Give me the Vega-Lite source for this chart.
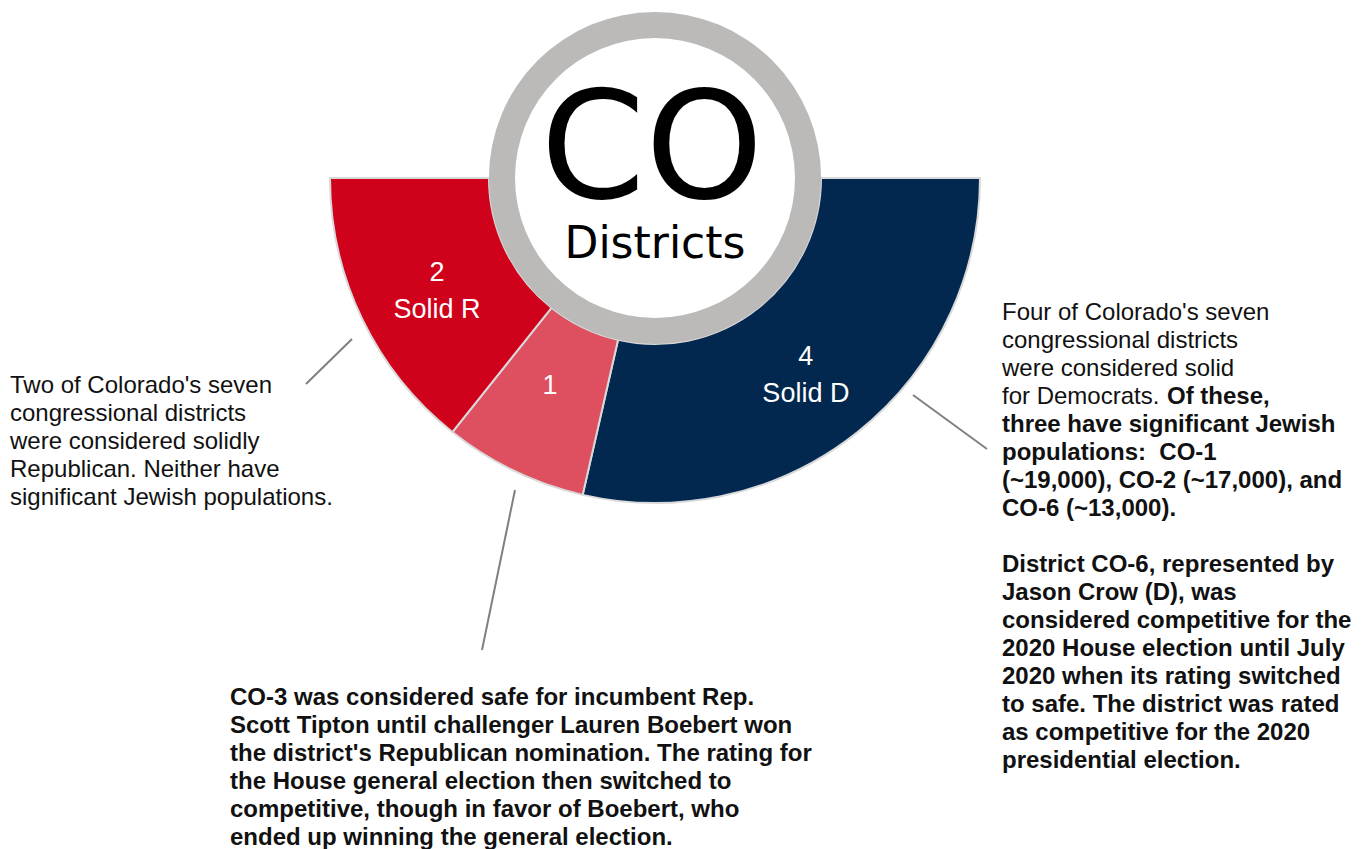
{
  "$schema": "https://vega.github.io/schema/vega-lite/v6.json",
  "width": 1368,
  "height": 849,
  "autosize": {"type": "none"},
  "padding": 0,
  "background": "white",
  "config": {"view": {"stroke": null}, "text": {"font": "Liberation Sans"}},
  "datasets": {
    "districts": [
      {"rating": "Solid D", "districts": 4, "ord": 1, "label": "4\nSolid D"},
      {"rating": "Competitive R", "districts": 1, "ord": 2, "label": "1"},
      {"rating": "Solid R", "districts": 2, "ord": 3, "label": "2\nSolid R"}
    ],
    "one": [{}]
  },
  "layer": [
    {
      "data": {"name": "districts"},
      "mark": {"type": "arc", "innerRadius": 166, "outerRadius": 325, "stroke": "#d9d9d9", "strokeWidth": 2},
      "encoding": {
        "x": {"datum": 655, "scale": {"domain": [0, 1368], "nice": false, "zero": false}, "axis": null},
        "y": {"datum": 178, "scale": {"domain": [0, 849], "nice": false, "zero": false, "reverse": true}, "axis": null},
        "theta": {"field": "districts", "type": "quantitative", "stack": true, "scale": {"domain": [0, 7], "range": [1.5708, 4.7124]}},
        "order": {"field": "ord", "type": "quantitative"},
        "color": {"field": "rating", "type": "nominal", "scale": {"domain": ["Solid D", "Competitive R", "Solid R"], "range": ["#02284F", "#DE4F60", "#D0021B"]}, "legend": null}
      }
    },
    {
      "data": {"name": "districts"},
      "mark": {"type": "text", "radius": 242, "dy": -10, "color": "white", "fontSize": 27, "lineBreak": "\n", "lineHeight": 37, "baseline": "middle", "align": "center"},
      "encoding": {
        "x": {"datum": 655, "scale": {"domain": [0, 1368], "nice": false, "zero": false}, "axis": null},
        "y": {"datum": 178, "scale": {"domain": [0, 849], "nice": false, "zero": false, "reverse": true}, "axis": null},
        "theta": {"field": "districts", "type": "quantitative", "stack": true, "scale": {"domain": [0, 7], "range": [1.5708, 4.7124]}},
        "order": {"field": "ord", "type": "quantitative"},
        "text": {"field": "label", "type": "nominal"}
      }
    },
    {
      "data": {"name": "one"},
      "mark": {"type": "arc", "theta": 0, "theta2": 6.2832, "innerRadius": 140, "outerRadius": 166, "color": "#BBBAB8"},
      "encoding": {
        "x": {"datum": 655, "scale": {"domain": [0, 1368], "nice": false, "zero": false}, "axis": null},
        "y": {"datum": 178, "scale": {"domain": [0, 849], "nice": false, "zero": false, "reverse": true}, "axis": null}
      }
    },
    {
      "data": {"name": "one"},
      "mark": {"type": "text", "text": "CO", "font": "DejaVu Sans", "fontSize": 150, "align": "center", "baseline": "alphabetic", "color": "black"},
      "encoding": {
        "x": {"datum": 652, "scale": {"domain": [0, 1368], "nice": false, "zero": false}, "axis": null},
        "y": {"datum": 198, "scale": {"domain": [0, 849], "nice": false, "zero": false, "reverse": true}, "axis": null}
      }
    },
    {
      "data": {"name": "one"},
      "mark": {"type": "text", "text": "Districts", "font": "DejaVu Sans", "fontSize": 44, "align": "center", "baseline": "alphabetic", "color": "black"},
      "encoding": {
        "x": {"datum": 655, "scale": {"domain": [0, 1368], "nice": false, "zero": false}, "axis": null},
        "y": {"datum": 258, "scale": {"domain": [0, 849], "nice": false, "zero": false, "reverse": true}, "axis": null}
      }
    },
    {
      "data": {"name": "one"},
      "mark": {"type": "text", "align": "left", "baseline": "alphabetic", "fontSize": 24, "lineHeight": 28, "color": "#111111",
        "text": ["Two of Colorado's seven", "congressional districts", "were considered solidly", "Republican. Neither have", "significant Jewish populations."]},
      "encoding": {
        "x": {"datum": 10, "scale": {"domain": [0, 1368], "nice": false, "zero": false}, "axis": null},
        "y": {"datum": 393, "scale": {"domain": [0, 849], "nice": false, "zero": false, "reverse": true}, "axis": null}
      }
    },
    {
      "data": {"name": "one"},
      "mark": {"type": "text", "align": "left", "baseline": "alphabetic", "fontSize": 24, "lineHeight": 28, "color": "#111111",
        "text": ["Four of Colorado's seven", "congressional districts", "were considered solid", "for Democrats."]},
      "encoding": {
        "x": {"datum": 1002, "scale": {"domain": [0, 1368], "nice": false, "zero": false}, "axis": null},
        "y": {"datum": 320, "scale": {"domain": [0, 849], "nice": false, "zero": false, "reverse": true}, "axis": null}
      }
    },
    {
      "data": {"name": "one"},
      "mark": {"type": "text", "align": "left", "baseline": "alphabetic", "fontSize": 24, "fontWeight": "bold", "color": "#111111", "text": "Of these,"},
      "encoding": {
        "x": {"datum": 1167, "scale": {"domain": [0, 1368], "nice": false, "zero": false}, "axis": null},
        "y": {"datum": 404, "scale": {"domain": [0, 849], "nice": false, "zero": false, "reverse": true}, "axis": null}
      }
    },
    {
      "data": {"name": "one"},
      "mark": {"type": "text", "align": "left", "baseline": "alphabetic", "fontSize": 24, "fontWeight": "bold", "lineHeight": 28, "color": "#111111",
        "text": ["three have significant Jewish", "populations:\u00a0\u00a0CO-1", "(~19,000), CO-2 (~17,000), and", "CO-6 (~13,000)."]},
      "encoding": {
        "x": {"datum": 1002, "scale": {"domain": [0, 1368], "nice": false, "zero": false}, "axis": null},
        "y": {"datum": 432, "scale": {"domain": [0, 849], "nice": false, "zero": false, "reverse": true}, "axis": null}
      }
    },
    {
      "data": {"name": "one"},
      "mark": {"type": "text", "align": "left", "baseline": "alphabetic", "fontSize": 24, "fontWeight": "bold", "lineHeight": 28, "color": "#111111",
        "text": ["District CO-6, represented by", "Jason Crow (D), was", "considered competitive for the", "2020 House election until July", "2020 when its rating switched", "to safe. The district was rated", "as competitive for the 2020", "presidential election."]},
      "encoding": {
        "x": {"datum": 1002, "scale": {"domain": [0, 1368], "nice": false, "zero": false}, "axis": null},
        "y": {"datum": 572, "scale": {"domain": [0, 849], "nice": false, "zero": false, "reverse": true}, "axis": null}
      }
    },
    {
      "data": {"name": "one"},
      "mark": {"type": "text", "align": "left", "baseline": "alphabetic", "fontSize": 24, "fontWeight": "bold", "lineHeight": 28, "color": "#111111",
        "text": ["CO-3 was considered safe for incumbent Rep.", "Scott Tipton until challenger Lauren Boebert won", "the district's Republican nomination. The rating for", "the House general election then switched to", "competitive, though in favor of Boebert, who", "ended up winning the general election."]},
      "encoding": {
        "x": {"datum": 230, "scale": {"domain": [0, 1368], "nice": false, "zero": false}, "axis": null},
        "y": {"datum": 705, "scale": {"domain": [0, 849], "nice": false, "zero": false, "reverse": true}, "axis": null}
      }
    },
    {
      "data": {"name": "one"},
      "mark": {"type": "rule", "color": "#808080", "strokeWidth": 2},
      "encoding": {
        "x": {"datum": 352, "scale": {"domain": [0, 1368], "nice": false, "zero": false}, "axis": null},
        "y": {"datum": 339, "scale": {"domain": [0, 849], "nice": false, "zero": false, "reverse": true}, "axis": null},
        "x2": {"datum": 306},
        "y2": {"datum": 384}
      }
    },
    {
      "data": {"name": "one"},
      "mark": {"type": "rule", "color": "#808080", "strokeWidth": 2},
      "encoding": {
        "x": {"datum": 515, "scale": {"domain": [0, 1368], "nice": false, "zero": false}, "axis": null},
        "y": {"datum": 490, "scale": {"domain": [0, 849], "nice": false, "zero": false, "reverse": true}, "axis": null},
        "x2": {"datum": 482},
        "y2": {"datum": 650}
      }
    },
    {
      "data": {"name": "one"},
      "mark": {"type": "rule", "color": "#808080", "strokeWidth": 2},
      "encoding": {
        "x": {"datum": 913, "scale": {"domain": [0, 1368], "nice": false, "zero": false}, "axis": null},
        "y": {"datum": 395, "scale": {"domain": [0, 849], "nice": false, "zero": false, "reverse": true}, "axis": null},
        "x2": {"datum": 987},
        "y2": {"datum": 449}
      }
    }
  ]
}
